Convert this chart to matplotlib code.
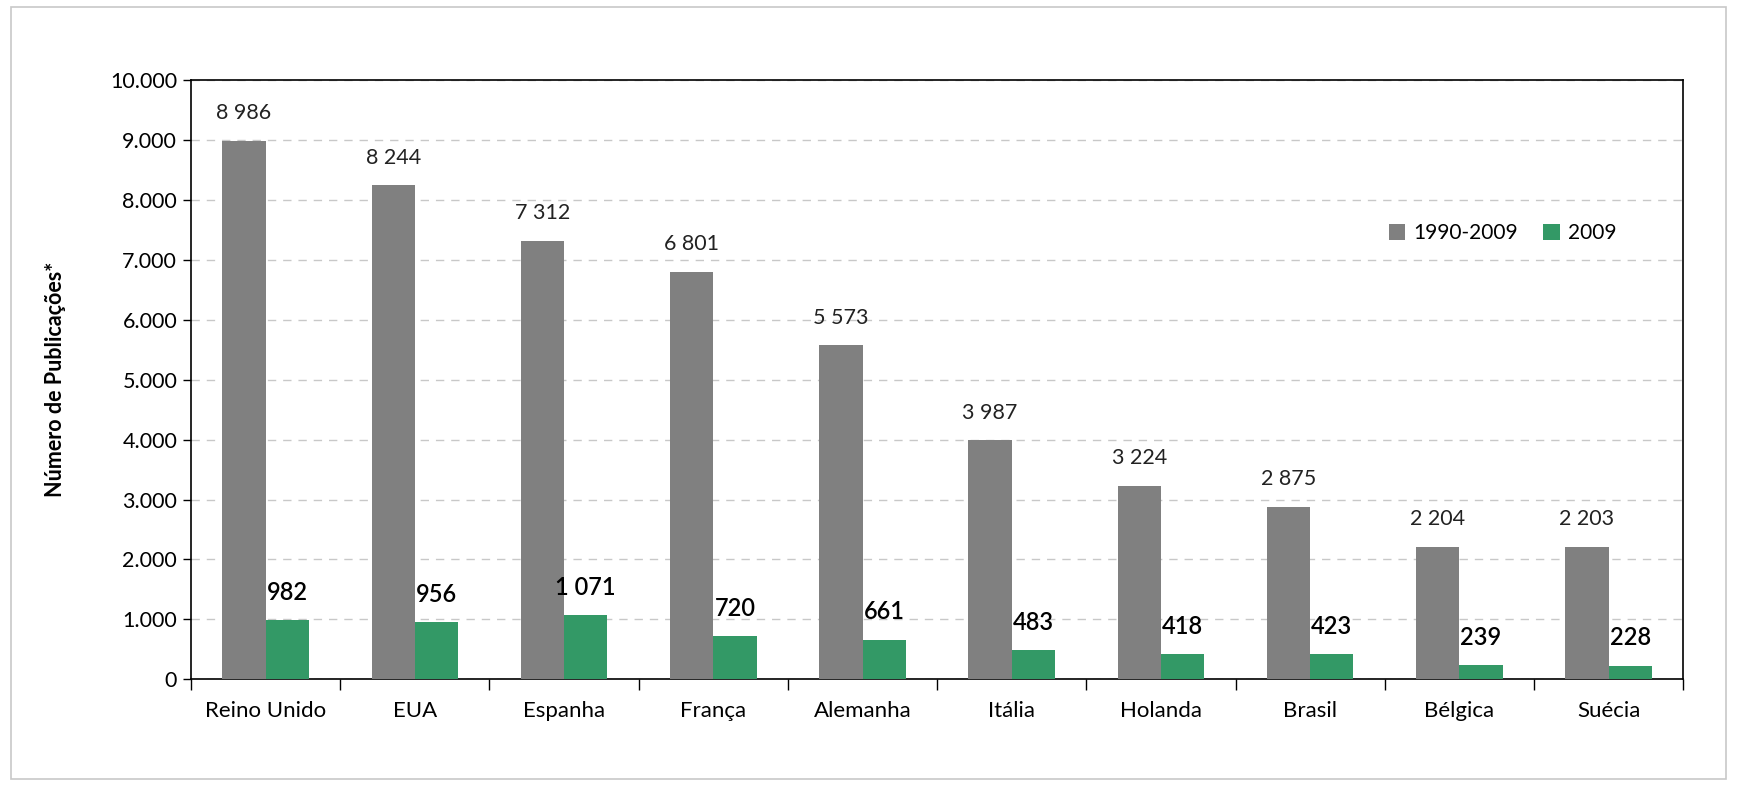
import numpy as np
import matplotlib.pyplot as plt
from matplotlib.patches import Rectangle

paises = ['Reino Unido', 'EUA', 'Espanha', 'França', 'Alemanha',
          'Itália', 'Holanda', 'Brasil', 'Bélgica', 'Suécia']
total_1990_2009 = [8986, 8244, 7312, 6801, 5573, 3987, 3224, 2875, 2204, 2203]
ano_2009 = [982, 956, 1071, 720, 661, 483, 418, 423, 239, 228]

cinza = '#808080'
verde = '#339966'

plt.rcParams['font.family'] = ['Lato', 'DejaVu Sans']


def sep(v, ch):
    return '{:,}'.format(int(v)).replace(',', ch)


fig = plt.figure(figsize=(17.37, 7.87), dpi=100)
# moldura cinza em volta do grafico
fig.patches.append(Rectangle((11 / 1737, 0.01), 1 - 22 / 1737, 1 - 7 / 787 - 0.01,
                             transform=fig.transFigure, fill=False,
                             edgecolor='#c8c8c8', linewidth=1.2))

ax = fig.add_axes([0.110, 0.137, 0.859, 0.761])

x = np.arange(len(paises))
w = 0.29
b1 = ax.bar(x - w / 2, total_1990_2009, w, color=cinza, label='1990-2009', zorder=3)
b2 = ax.bar(x + w / 2, ano_2009, w, color=verde, label='2009', zorder=3)

for rect, v in zip(b1, total_1990_2009):
    ax.annotate(sep(v, ' '), (rect.get_x() + rect.get_width() / 2, v),
                xytext=(0, 20), textcoords='offset points',
                ha='center', va='center', fontsize=15.5, color='#222222')
for rect, v in zip(b2, ano_2009):
    ax.annotate(sep(v, ' '), (rect.get_x() + rect.get_width() / 2, v),
                xytext=(0, 20), textcoords='offset points',
                ha='center', va='center', fontsize=17, fontweight='semibold',
                color='black')

ax.set_xlim(-0.5, len(paises) - 0.5)
ax.set_ylim(0, 10000)
ax.set_yticks(np.arange(0, 10001, 1000))
ax.set_yticklabels([sep(v, '.') for v in np.arange(0, 10001, 1000)])
ax.yaxis.grid(True, linestyle=(0, (6, 5)), color='#c8c8c8', linewidth=1, zorder=0)

ax.set_xticks(np.arange(-0.5, len(paises), 1))
ax.set_xticklabels([])
ax.set_xticks(x, minor=True)
ax.set_xticklabels(paises, minor=True)
ax.tick_params(axis='x', which='major', length=8, width=1, direction='out')
ax.tick_params(axis='x', which='minor', length=0, pad=16, labelsize=16)
ax.tick_params(axis='y', length=6, width=1, labelsize=15.5, pad=4)

for s in ax.spines.values():
    s.set_linewidth(1.2)
    s.set_color('black')

ax.set_ylabel('Número de Publicações*', fontsize=15.5, fontweight='bold', labelpad=32)

ax.legend(loc='center left', bbox_to_anchor=(0.79, 0.745), ncol=2, frameon=False,
          fontsize=15, handlelength=0.8, handleheight=0.8, handletextpad=0.4,
          columnspacing=1.2)

fig.savefig('out.png', dpi=100)
